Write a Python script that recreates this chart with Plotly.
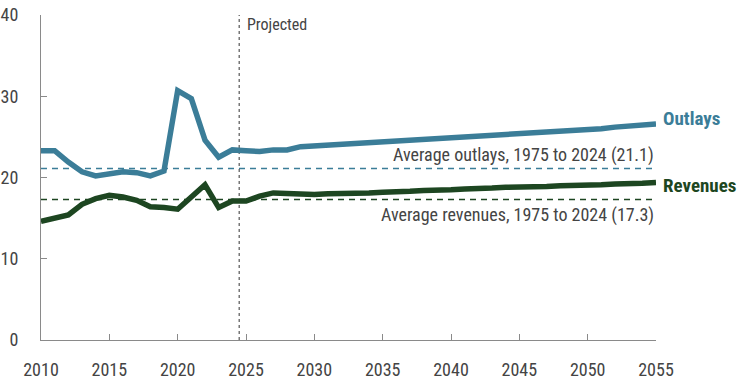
import plotly.graph_objects as go

years = list(range(2010, 2056))
outlays = [23.3, 23.3, 21.9, 20.7, 20.2, 20.4, 20.7, 20.6, 20.2, 20.8,
           30.7, 29.7, 24.6, 22.5, 23.4, 23.3, 23.2, 23.4, 23.4, 23.8,
           23.9, 24.0, 24.1, 24.2, 24.3, 24.4, 24.4, 24.5, 24.6, 24.7,
           24.8, 24.9, 25.0, 25.1, 25.2, 25.3, 25.4, 25.5, 25.6, 25.8,
           25.9, 26.0, 26.2, 26.3, 26.5, 26.6]
revenues = [14.6, 15.0, 15.4, 16.7, 17.4, 17.8, 17.6, 17.2, 16.4, 16.3,
            16.1, 17.6, 19.1, 16.3, 17.1, 17.1, 17.7, 18.1, 18.0, 17.9,
            17.9, 18.0, 18.0, 18.1, 18.1, 18.2, 18.2, 18.3, 18.4, 18.4,
            18.5, 18.6, 18.6, 18.7, 18.8, 18.8, 18.9, 18.9, 19.0, 19.0,
            19.1, 19.1, 19.2, 19.2, 19.3, 19.4]
avg_outlays = 21.1
avg_revenues = 17.3
projection_start = 2024.5
x_ticks = [2010, 2015, 2020, 2025, 2030, 2035, 2040, 2045, 2050, 2055]
y_ticks = [0, 10, 20, 30, 40]

BLUE = "#3b7d98"
GREEN = "#1d4621"
TXT = "#444444"
FONT = "Roboto Condensed, Liberation Sans Narrow, Arial Narrow, Roboto, sans-serif"

fig = go.Figure()
fig.add_trace(go.Scatter(x=[years[0], years[-1]], y=[avg_outlays]*2, mode="lines",
                         line=dict(color=BLUE, width=1.6, dash="6px,5px"), hoverinfo="skip"))
fig.add_trace(go.Scatter(x=[years[0], years[-1]], y=[avg_revenues]*2, mode="lines",
                         line=dict(color=GREEN, width=1.6, dash="6px,5px"), hoverinfo="skip"))
fig.add_trace(go.Scatter(x=[projection_start]*2, y=[0, 40], mode="lines",
                         line=dict(color="#333333", width=1, dash="dot"), hoverinfo="skip"))
fig.add_trace(go.Scatter(x=years, y=outlays, mode="lines",
                         line=dict(color=BLUE, width=5.5)))
fig.add_trace(go.Scatter(x=years, y=revenues, mode="lines",
                         line=dict(color=GREEN, width=5.5)))

fig.add_annotation(x=projection_start, y=40, xref="x", yref="y", text="Projected",
                   showarrow=False, xanchor="left", yanchor="top", xshift=6, yshift=2,
                   font=dict(family=FONT, size=16, color=TXT))
fig.add_annotation(x=2055, y=avg_outlays, text="Average outlays, 1975 to 2024 (21.1)",
                   showarrow=False, xanchor="right", yanchor="bottom", yshift=1,
                   font=dict(family=FONT, size=18, color=TXT))
fig.add_annotation(x=2055, y=avg_revenues, text="Average revenues, 1975 to 2024 (17.3)",
                   showarrow=False, xanchor="right", yanchor="top", yshift=-3,
                   font=dict(family=FONT, size=18, color=TXT))
fig.add_annotation(x=2055, y=outlays[-1], text="<b>Outlays</b>",
                   showarrow=False, xanchor="left", yanchor="middle", xshift=5, yshift=5,
                   font=dict(family=FONT, size=19, color=BLUE))
fig.add_annotation(x=2055, y=revenues[-1], text="<b>Revenues</b>",
                   showarrow=False, xanchor="left", yanchor="middle", xshift=5, yshift=-3,
                   font=dict(family=FONT, size=19, color=GREEN))

fig.update_layout(
    width=750, height=381, showlegend=False,
    margin=dict(l=41, r=94, t=15, b=41),
    paper_bgcolor="white", plot_bgcolor="white",
    font=dict(family=FONT, size=18, color=TXT),
)
fig.update_xaxes(range=[2010, 2055], tickvals=x_ticks, showgrid=False, zeroline=False,
                 showline=True, linecolor="#8a8a8a", linewidth=1.2, automargin=False,
                 ticks="inside", ticklen=6, tickcolor="#8a8a8a", ticklabelstandoff=13)
fig.update_yaxes(range=[0, 40], tickvals=y_ticks, showgrid=False, zeroline=False,
                 showline=True, linecolor="#8a8a8a", linewidth=1.2, automargin=False,
                 ticks="inside", ticklen=6, tickcolor="#8a8a8a", ticklabelstandoff=18)

# remove the default page margin so the figure fills the window exactly
fig.write_html("out.html", config={"displayModeBar": False},
               post_script="document.body.style.margin='0';document.body.style.overflow='hidden';")
